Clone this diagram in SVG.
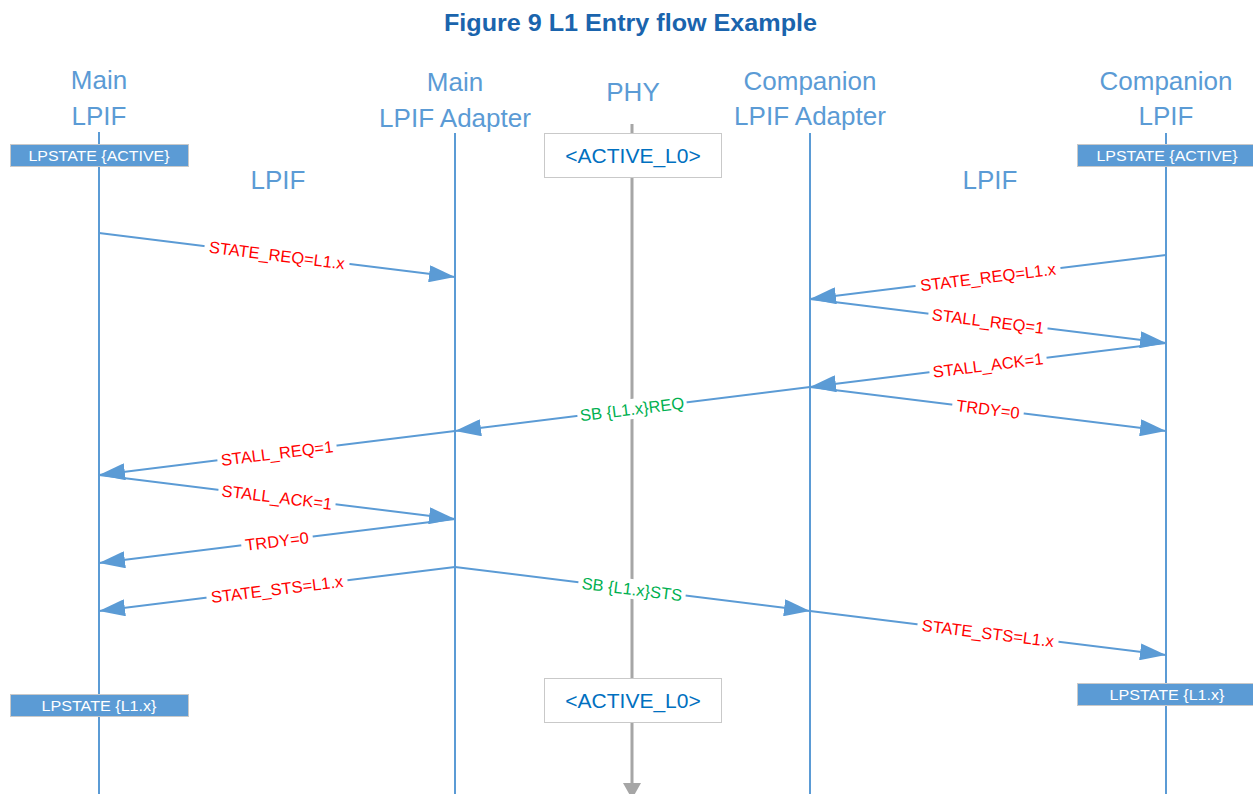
<svg xmlns="http://www.w3.org/2000/svg" width="1253" height="794" viewBox="0 0 1253 794">
  <style>
    text { font-family: "Liberation Sans", Arial, sans-serif; }
    .title { font-size: 24px; font-weight: bold; fill: #1a64ad; text-anchor: middle; }
    .head { font-size: 26px; fill: #5b9bd5; text-anchor: middle; }
    .life { stroke: #5b9bd5; stroke-width: 2; fill: none; }
    .phy { stroke: #a6a6a6; stroke-width: 3; fill: none; }
    .state rect { fill: #5b9bd5; stroke: #c9c9c9; stroke-width: 1; }
    .state text { font-size: 15px; fill: #ffffff; text-anchor: middle; }
    .phybox rect { fill: #ffffff; stroke: #c9c9c9; stroke-width: 1; }
    .phybox text { font-size: 21px; fill: #0070c0; text-anchor: middle; }
    .msg { stroke: #5b9bd5; stroke-width: 2; fill: none; marker-end: url(#arrow); }
    .lbl rect { fill: #ffffff; }
    .lbl text { font-size: 16.5px; text-anchor: middle; }
    .red text { fill: #ff0000; }
    .green text { fill: #00b050; }
  </style>
  <defs>
    <marker id="arrow" markerUnits="userSpaceOnUse" markerWidth="26" markerHeight="17" refX="26" refY="8.5" orient="auto">
      <path d="M0,0 L26,8.5 L0,17 Z" fill="#5b9bd5"/>
    </marker>
    <marker id="phyArrow" markerUnits="userSpaceOnUse" markerWidth="16" markerHeight="18" refX="16" refY="9" orient="auto">
      <path d="M0,0 L16,9 L0,18 Z" fill="#a6a6a6"/>
    </marker>
  </defs>

  <rect width="1253" height="794" fill="#ffffff"/>

  <text class="title" x="630.5" y="31" textLength="373" lengthAdjust="spacingAndGlyphs">Figure 9 L1 Entry flow Example</text>

  <!-- lifelines -->
  <g id="lifelines">
    <line class="life" x1="99" y1="132" x2="99" y2="794"/>
    <line class="life" x1="455" y1="133" x2="455" y2="794"/>
    <line class="life" x1="810" y1="133" x2="810" y2="794"/>
    <line class="life" x1="1166" y1="133" x2="1166" y2="794"/>
    <line class="phy" x1="632" y1="124" x2="632" y2="799" marker-end="url(#phyArrow)"/>
  </g>

  <!-- participant headers -->
  <g id="main-lpif">
    <text class="head" x="99" y="89">Main</text>
    <text class="head" x="99" y="125">LPIF</text>
  </g>
  <g id="main-adapter">
    <text class="head" x="455" y="91">Main</text>
    <text class="head" x="455" y="127">LPIF Adapter</text>
  </g>
  <g id="phy">
    <text class="head" x="633" y="101">PHY</text>
  </g>
  <g id="companion-adapter">
    <text class="head" x="810" y="90">Companion</text>
    <text class="head" x="810" y="125">LPIF Adapter</text>
  </g>
  <g id="companion-lpif">
    <text class="head" x="1166" y="90">Companion</text>
    <text class="head" x="1166" y="125">LPIF</text>
  </g>

  <g id="lpif-left"><text class="head" x="278" y="189">LPIF</text></g>
  <g id="lpif-right"><text class="head" x="990" y="189">LPIF</text></g>

  <!-- state boxes -->
  <g id="state-main-active" class="state">
    <rect x="10.5" y="144.5" width="178" height="22"/>
    <text x="99" y="161" textLength="141" lengthAdjust="spacingAndGlyphs">LPSTATE {ACTIVE}</text>
  </g>
  <g id="state-companion-active" class="state">
    <rect x="1077.5" y="144.5" width="178" height="22"/>
    <text x="1167" y="161" textLength="141" lengthAdjust="spacingAndGlyphs">LPSTATE {ACTIVE}</text>
  </g>
  <g id="state-main-l1" class="state">
    <rect x="10.5" y="694.5" width="178" height="22"/>
    <text x="99" y="711" textLength="115" lengthAdjust="spacingAndGlyphs">LPSTATE {L1.x}</text>
  </g>
  <g id="state-companion-l1" class="state">
    <rect x="1077.5" y="683.5" width="178" height="22"/>
    <text x="1167" y="700" textLength="115" lengthAdjust="spacingAndGlyphs">LPSTATE {L1.x}</text>
  </g>

  <g id="phy-state-top" class="phybox">
    <rect x="544.5" y="133.5" width="177" height="44"/>
    <text x="633" y="163">&lt;ACTIVE_L0&gt;</text>
  </g>
  <g id="phy-state-bottom" class="phybox">
    <rect x="544.5" y="678.5" width="177" height="44"/>
    <text x="633" y="708">&lt;ACTIVE_L0&gt;</text>
  </g>

  <!-- messages -->
  <g id="connectors">
    <line class="msg" x1="99" y1="233" x2="455" y2="277"/>
    <line class="msg" x1="1166" y1="255" x2="810" y2="299"/>
    <line class="msg" x1="810" y1="299" x2="1166" y2="343"/>
    <line class="msg" x1="1166" y1="343" x2="810" y2="387"/>
    <line class="msg" x1="810" y1="387" x2="1166" y2="431"/>
    <line class="msg" x1="810" y1="387" x2="455" y2="431"/>
    <line class="msg" x1="455" y1="431" x2="99" y2="475"/>
    <line class="msg" x1="99" y1="475" x2="455" y2="519"/>
    <line class="msg" x1="455" y1="519" x2="99" y2="563"/>
    <line class="msg" x1="455" y1="567" x2="99" y2="611"/>
    <line class="msg" x1="455" y1="567" x2="810" y2="611"/>
    <line class="msg" x1="810" y1="611" x2="1166" y2="655"/>

    <g class="lbl red" transform="translate(277,255) rotate(7.05)">
      <rect x="-73" y="-10" width="146" height="20"/><text y="6">STATE_REQ=L1.x</text>
    </g>
    <g class="lbl red" transform="translate(988,277) rotate(-7.05)">
      <rect x="-73" y="-10" width="146" height="20"/><text y="6">STATE_REQ=L1.x</text>
    </g>
    <g class="lbl red" transform="translate(988,321) rotate(7.05)">
      <rect x="-60" y="-10" width="120" height="20"/><text y="6">STALL_REQ=1</text>
    </g>
    <g class="lbl red" transform="translate(988,365) rotate(-7.05)">
      <rect x="-59" y="-10" width="118" height="20"/><text y="6">STALL_ACK=1</text>
    </g>
    <g class="lbl red" transform="translate(988,409) rotate(7.05)">
      <rect x="-36" y="-10" width="72" height="20"/><text y="6">TRDY=0</text>
    </g>
    <g class="lbl green" transform="translate(632,409) rotate(-7.05)">
      <rect x="-55" y="-10" width="110" height="20"/><text y="6">SB {L1.x}REQ</text>
    </g>
    <g class="lbl red" transform="translate(277,453) rotate(-7.05)">
      <rect x="-60" y="-10" width="120" height="20"/><text y="6">STALL_REQ=1</text>
    </g>
    <g class="lbl red" transform="translate(277,497) rotate(7.05)">
      <rect x="-59" y="-10" width="118" height="20"/><text y="6">STALL_ACK=1</text>
    </g>
    <g class="lbl red" transform="translate(277,541) rotate(-7.05)">
      <rect x="-36" y="-10" width="72" height="20"/><text y="6">TRDY=0</text>
    </g>
    <g class="lbl red" transform="translate(277,589) rotate(-7.05)">
      <rect x="-71" y="-10" width="142" height="20"/><text y="6">STATE_STS=L1.x</text>
    </g>
    <g class="lbl green" transform="translate(632,589) rotate(7.05)">
      <rect x="-54" y="-10" width="108" height="20"/><text y="6">SB {L1.x}STS</text>
    </g>
    <g class="lbl red" transform="translate(988,633) rotate(7.05)">
      <rect x="-71" y="-10" width="142" height="20"/><text y="6">STATE_STS=L1.x</text>
    </g>
  </g>
</svg>
